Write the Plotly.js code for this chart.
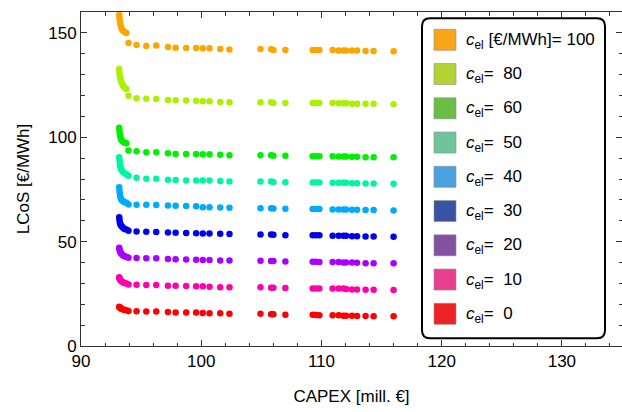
<!DOCTYPE html>
<html>
<head>
<meta charset="utf-8">
<script src="https://cdn.plot.ly/plotly-3.0.1.min.js"></script>
<style>html,body{margin:0;padding:0;background:#fff;}#chart{width:622px;height:412px;}</style>
</head>
<body>
<div id="chart"></div>
<script>
// CAPEX [mill. €] of the evaluated configurations (shared by all series)
const capex = [93.18, 93.2, 93.23, 93.27, 93.32, 93.4, 93.5, 93.62, 93.78,
  93.95, 94.62, 95.43, 96.26, 97.23, 97.87, 98.75, 99.58, 100.13, 100.69, 101.58, 102.35,
  104.93, 105.81, 106.0, 107.0,
  109.27, 109.55, 109.83, 110.93, 111.43, 111.82, 112.05, 112.54, 112.96, 113.67, 114.34, 116.0];

// LCoS [€/MWh] for each electricity price c_el
const lcos100 = [158.7, 157.3, 155.8, 154.4, 153.0, 151.8, 151.0, 150.4, 149.9,
  145.2, 144.2, 143.7, 143.9, 143.2, 142.9, 142.8, 142.7, 142.6, 142.6, 142.3, 142.0,
  142.3, 142.1, 141.8, 141.8, 141.8, 141.8, 141.8, 141.8, 141.6, 141.6, 141.5, 141.5, 141.5, 141.3, 141.3, 141.2];
const lcos80 = [132.7, 131.0, 129.5, 128.3, 127.1, 125.9, 124.7, 123.8, 123.1,
  119.9, 118.7, 118.4, 118.3, 117.9, 117.7, 117.6, 117.5, 117.2, 117.2, 116.9, 116.8,
  116.8, 116.8, 116.4, 116.4, 116.4, 116.4, 116.4, 116.4, 116.3, 116.3, 116.3, 116.1, 116.1, 116.0, 116.0, 115.8];
const lcos60 = [104.5, 103.0, 101.6, 100.3, 99.2, 98.4, 97.8, 97.4, 97.1,
  93.6, 93.3, 92.8, 92.8, 92.3, 92.0, 92.0, 92.0, 91.9, 91.9, 91.6, 91.4,
  91.4, 91.4, 91.1, 91.1, 90.9, 90.9, 90.9, 90.9, 90.8, 90.8, 90.8, 90.6, 90.6, 90.4, 90.4, 90.4];
const lcos50 = [90.4, 89.0, 87.3, 86.0, 84.9, 84.1, 83.4, 82.8, 82.3,
  81.5, 80.6, 80.1, 80.1, 79.6, 79.5, 79.3, 79.3, 79.3, 79.3, 79.0, 78.8,
  78.8, 78.8, 78.6, 78.5, 78.3, 78.3, 78.3, 78.2, 78.2, 78.2, 78.2, 78.0, 78.0, 77.8, 77.8, 77.7];
const lcos40 = [76.1, 74.4, 72.9, 71.6, 70.5, 69.8, 69.3, 68.9, 68.6,
  67.8, 67.7, 67.7, 67.6, 67.3, 67.2, 67.1, 67.0, 66.5, 66.5, 66.4, 66.2,
  66.0, 66.0, 65.9, 65.7, 65.6, 65.6, 65.6, 65.4, 65.4, 65.4, 65.4, 65.3, 65.3, 65.1, 65.1, 64.9];
const lcos30 = [61.7, 60.5, 59.3, 58.5, 57.8, 57.2, 56.6, 56.1, 55.8,
  55.2, 54.9, 54.7, 54.6, 54.4, 54.3, 54.1, 54.0, 53.9, 53.9, 53.8, 53.6,
  53.4, 53.4, 53.3, 53.1, 53.0, 53.0, 53.0, 52.8, 52.8, 52.8, 52.8, 52.6, 52.6, 52.5, 52.5, 52.3];
const lcos20 = [47.1, 46.3, 45.6, 45.0, 44.4, 43.9, 43.4, 43.0, 42.7,
  42.3, 42.1, 42.0, 42.0, 41.7, 41.5, 41.4, 41.3, 41.2, 41.2, 41.0, 41.0,
  40.8, 40.7, 40.7, 40.5, 40.4, 40.4, 40.2, 40.2, 40.2, 40.0, 40.0, 40.0, 39.9, 39.7, 39.7, 39.6];
const lcos10 = [32.9, 32.5, 32.1, 31.7, 31.3, 30.9, 30.5, 30.2, 29.9,
  29.5, 29.4, 29.2, 29.2, 28.9, 28.9, 28.7, 28.6, 28.6, 28.4, 28.2, 28.2,
  28.1, 27.9, 27.9, 27.8, 27.6, 27.6, 27.6, 27.5, 27.5, 27.5, 27.3, 27.1, 27.1, 27.0, 27.0, 26.8];
const lcos0 = [18.8, 18.6, 18.4, 18.2, 18.0, 17.8, 17.5, 17.3, 17.1,
  16.8, 16.6, 16.5, 16.5, 16.3, 16.1, 16.1, 16.0, 15.8, 15.7, 15.7, 15.5,
  15.4, 15.2, 15.2, 15.0, 15.0, 14.9, 14.7, 14.7, 14.7, 14.5, 14.5, 14.5, 14.4, 14.4, 14.2, 14.2];

const prices = [100, 80, 60, 50, 40, 30, 20, 10, 0];
const seriesValues = [lcos100, lcos80, lcos60, lcos50, lcos40, lcos30, lcos20, lcos10, lcos0];
const legendLabels = [
  '<i>c</i><sub>el</sub> [€/MWh]= 100',
  '<i>c</i><sub>el</sub>=\u00a0\u00a080',
  '<i>c</i><sub>el</sub>=\u00a0\u00a060',
  '<i>c</i><sub>el</sub>=\u00a0\u00a050',
  '<i>c</i><sub>el</sub>=\u00a0\u00a040',
  '<i>c</i><sub>el</sub>=\u00a0\u00a030',
  '<i>c</i><sub>el</sub>=\u00a0\u00a020',
  '<i>c</i><sub>el</sub>=\u00a0\u00a010',
  '<i>c</i><sub>el</sub>=\u00a0\u00a00'
];
const pointColors = ['#FFA500', '#AAF000', '#00F000', '#00F5A0', '#00AAFF', '#0000EE', '#AA00FF', '#FF00AA', '#FF0000'];
const swatchColors = ['#F9A51A', '#B3D335', '#6ABD45', '#6EC59A', '#4AA3DD', '#3953A4', '#8351A1', '#E93F91', '#ED2224'];

const W = 622, H = 412, ML = 81, MR = 0, MT = 12, MB = 66;
const PW = W - ML - MR, PH = H - MT - MB;
const fx = px => (px - ML) / PW;
const fy = py => (H - MB - py) / PH;

const FONT = 'Liberation Sans, Arial, Helvetica, sans-serif';

const traces = prices.map((p, i) => ({
  type: 'scatter', mode: 'markers',
  x: capex, y: seriesValues[i],
  name: 'c_el = ' + p,
  marker: {size: 6.5, color: pointColors[i], line: {width: 0}},
  showlegend: false, hoverinfo: 'skip'
}));

// custom legend (rounded box + square swatches)
const shapes = [];
const annotations = [];
const bx0 = fx(422), bx1 = fx(605), byTop = fy(18.3), byBot = fy(338.3);
const rx = 8 / PW, ry = 8 / PH;
shapes.push({
  type: 'path', xref: 'paper', yref: 'paper', layer: 'above',
  path: `M ${bx0 + rx},${byTop} L ${bx1 - rx},${byTop} Q ${bx1},${byTop} ${bx1},${byTop - ry} ` +
        `L ${bx1},${byBot + ry} Q ${bx1},${byBot} ${bx1 - rx},${byBot} ` +
        `L ${bx0 + rx},${byBot} Q ${bx0},${byBot} ${bx0},${byBot + ry} ` +
        `L ${bx0},${byTop - ry} Q ${bx0},${byTop} ${bx0 + rx},${byTop} Z`,
  line: {color: '#000', width: 2}, fillcolor: '#fff'
});
legendLabels.forEach((lab, i) => {
  const top = 29.3 + i * 34.25;
  shapes.push({
    type: 'rect', xref: 'paper', yref: 'paper', layer: 'above',
    x0: fx(434), x1: fx(456), y0: fy(top + 21), y1: fy(top),
    fillcolor: swatchColors[i], line: {color: 'rgba(140,140,140,0.6)', width: 1}
  });
  annotations.push({
    xref: 'paper', yref: 'paper', x: fx(464), y: fy(top + 11.5),
    xanchor: 'left', yanchor: 'middle', showarrow: false,
    text: lab, font: {family: FONT, size: 17, color: '#000'}
  });
});

const axisCommon = {
  ticks: 'inside', ticklen: 6, tickwidth: 1, tickcolor: '#333',
  showline: true, linecolor: '#333', linewidth: 1, mirror: 'allticks',
  showgrid: false, zeroline: false,
  tickfont: {family: FONT, size: 17, color: '#000'}
};

const layout = {
  width: W, height: H,
  margin: {l: ML, r: MR, t: MT, b: MB, pad: 0},
  paper_bgcolor: '#fff', plot_bgcolor: '#fff',
  showlegend: false,
  xaxis: Object.assign({}, axisCommon, {
    range: [90, 135], tick0: 0, dtick: 10,
    minor: {dtick: 2, ticks: 'inside', ticklen: 3.5, tickcolor: '#333', showgrid: false},
    title: {text: 'CAPEX [mill. €]', font: {family: FONT, size: 17, color: '#000'}, standoff: 19}
  }),
  yaxis: Object.assign({}, axisCommon, {
    range: [0, 160], tick0: 0, dtick: 50,
    minor: {dtick: 10, ticks: 'inside', ticklen: 3.5, tickcolor: '#333', showgrid: false},
    title: {text: 'LCoS [€/MWh]', font: {family: FONT, size: 17, color: '#000'}, standoff: 14}
  }),
  shapes: shapes,
  annotations: annotations
};

Plotly.newPlot('chart', traces, layout, {staticPlot: true, displayModeBar: false});
</script>
</body>
</html>
